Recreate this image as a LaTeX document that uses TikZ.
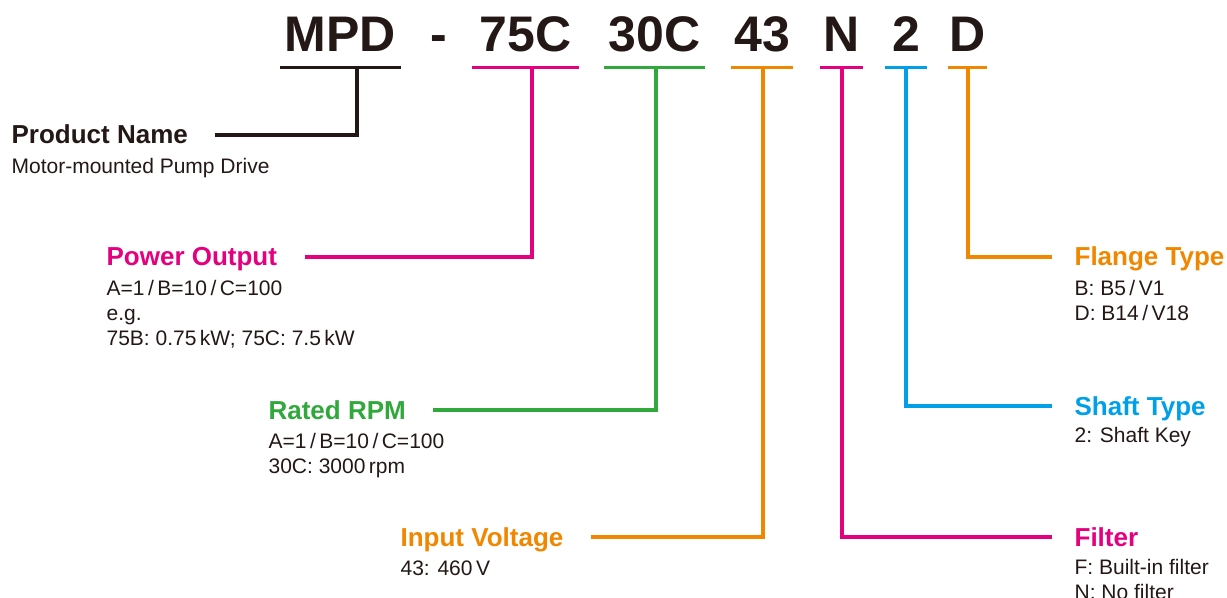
\documentclass[tikz,border=0pt]{standalone}
\usepackage{fontspec}
\setmainfont{Liberation Sans}
\usepackage{tikz}
\definecolor{code_black}{RGB}{35,24,21}
\definecolor{code_pink}{RGB}{228,0,127}
\definecolor{code_green}{RGB}{48,168,60}
\definecolor{code_orange}{RGB}{241,135,0}
\definecolor{code_blue}{RGB}{0,160,233}

\begin{document}
\begin{tikzpicture}[x=0.75pt,y=-0.75pt,line width=2.4pt]
    \tikzstyle{code}=[font=\fontsize{37.5}{40}\selectfont\bfseries, text=code_black, anchor=base, inner xsep=0pt, inner ysep=10.5pt, text depth=0pt]
    \tikzstyle{head}=[font=\fontsize{19.5}{22}\selectfont\bfseries, anchor=base west, inner sep=0pt]
    \tikzstyle{desc}=[font=\fontsize{15.75}{18.75}\selectfont, text=code_black, anchor=north west, inner sep=0pt, align=left]

    \useasboundingbox (0,0) rectangle (1227,598);

    % model code
    \node[code,minimum width=87.75pt] (mpd)  at (340.5,52) {MPD};
    \node[code]                       (dash) at (439,52)   {-};
    \node[code,minimum width=77.25pt] (pw)   at (525.5,52) {75C};
    \node[code,minimum width=72.75pt] (rp)   at (654.5,52) {30C};
    \node[code,minimum width=43.5pt]  (vo)   at (762,52)   {43};
    \node[code,minimum width=29.25pt] (fi)   at (841.5,52) {N};
    \node[code,minimum width=28.5pt]  (sh)   at (906,52)   {2};
    \node[code,minimum width=24.75pt] (fl)   at (967.5,52) {D};

    \draw[code_black]  (mpd.south west) -- (mpd.south east);
    \draw[code_pink]   (pw.south west)  -- (pw.south east);
    \draw[code_green]  (rp.south west)  -- (rp.south east);
    \draw[code_orange] (vo.south west)  -- (vo.south east);
    \draw[code_pink]   (fi.south west)  -- (fi.south east);
    \draw[code_blue]   (sh.south west)  -- (sh.south east);
    \draw[code_orange] (fl.south west)  -- (fl.south east);

    \coordinate (t_mpd) at (357,66);
    \coordinate (t_pw)  at (532,66);
    \coordinate (t_rp)  at (656,66);
    \coordinate (t_vo)  at (763,66);
    \coordinate (t_fi)  at (842,66);
    \coordinate (t_sh)  at (906,66);
    \coordinate (t_fl)  at (968,66);

    % left side
    \node[head,text=code_black]  (pname) at (10,144)  {Product Name};
    \node[desc]                  (pname_d) at (10,157) {Motor-mounted Pump Drive};
    \node[head,text=code_pink]   (pout) at (105,266) {Power Output};
    \node[desc]                  (pout_d) at (105,279) {A=1\,/\,B=10\,/\,C=100\\e.g.\\75B: 0.75\,kW; 75C: 7.5\,kW};
    \node[head,text=code_green]  (rpm) at (267,419) {Rated RPM};
    \node[desc]                  (rpm_d) at (267,432) {A=1\,/\,B=10\,/\,C=100\\30C: 3000\,rpm};
    \node[head,text=code_orange] (volt) at (399,546) {Input Voltage};
    \node[desc]                  (volt_d) at (399,559) {43: 460\,V};

    % right side
    \node[head,text=code_orange] (flange) at (1073,266) {Flange Type};
    \node[desc]                  (flange_d) at (1073,279) {B: B5\,/\,V1\\D: B14\,/\,V18};
    \node[head,text=code_blue]   (shaft) at (1073,415) {Shaft Type};
    \node[desc]                  (shaft_d) at (1073,426) {2: Shaft Key};
    \node[head,text=code_pink]   (filter) at (1073,546) {Filter};
    \node[desc]                  (filter_d) at (1073,558) {F: Built-in filter\\N: No filter};

    \draw[code_black]  (t_mpd) |- ([shift={(26,-9)}]pname.base east);
    \draw[code_pink]   (t_pw)  |- ([shift={(26,-9)}]pout.base east);
    \draw[code_green]  (t_rp)  |- ([shift={(26,-9)}]rpm.base east);
    \draw[code_orange] (t_vo)  |- ([shift={(26,-9)}]volt.base east);
    \draw[code_pink]   (t_fi)  |- ([shift={(-21,-9)}]filter.base west);
    \draw[code_blue]   (t_sh)  |- ([shift={(-21,-9)}]shaft.base west);
    \draw[code_orange] (t_fl)  |- ([shift={(-21,-9)}]flange.base west);
\end{tikzpicture}
\end{document}
